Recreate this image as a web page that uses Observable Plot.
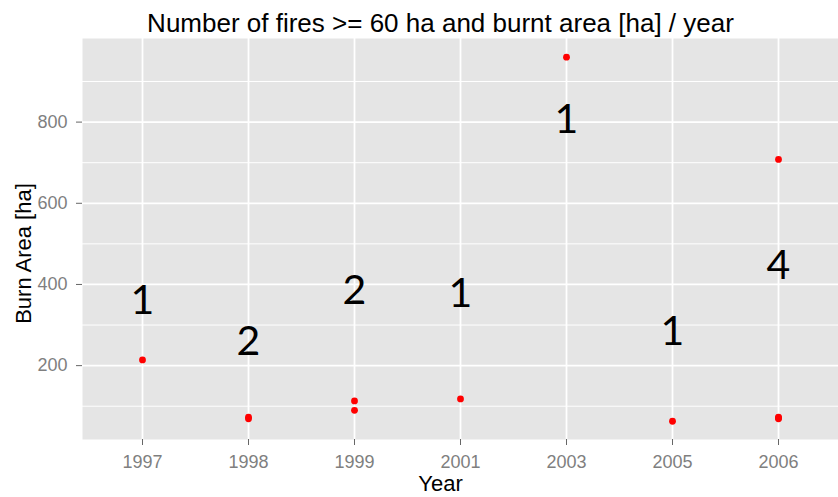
<!DOCTYPE html>
<html>
<head>
<meta charset="utf-8">
<script src="https://cdn.jsdelivr.net/npm/d3@7"></script>
<script src="https://cdn.jsdelivr.net/npm/@observablehq/plot@0.6"></script>
<style>
  html, body { margin: 0; padding: 0; background: white; }
  svg { display: block; }
</style>
</head>
<body>
<div id="chart"></div>
<script>
// ---- data ----
const years = ["1997", "1998", "1999", "2001", "2003", "2005", "2006"];
const fireYear = ["1997", "1998", "1998", "1999", "1999", "2001", "2003", "2005", "2006", "2006", "2006", "2006"];
const burnArea = [214, 69, 73, 113, 90, 118, 960, 63, 708, 69, 71, 73];
const fireCount = [1, 2, 2, 1, 1, 1, 4];
const countLabelY = [360, 259, 385, 376, 806, 282, 447]; // annotation anchor (ha)
const yTicks = [200, 400, 600, 800];
const yMinor = [100, 300, 500, 700, 900];
const titleText = "Number of fires >= 60 ha and burnt area [ha] / year";
const xTitle = "Year";
const yTitle = "Burn Area [ha]";

// ---- tables ----
const points = fireYear.map((y, i) => ({year: y, area: burnArea[i]}));
const labels = years.map((y, i) => ({year: y, count: String(fireCount[i]), pos: countLabelY[i]}));

const chart = Plot.plot({
  width: 838,
  height: 497,
  marginLeft: 82,
  marginRight: 0,
  marginTop: 38,
  marginBottom: 58,
  style: {fontFamily: "'Liberation Sans', Arial, sans-serif", fontSize: "18px", background: "white"},
  x: {type: "point", domain: years, padding: 0.55},
  y: {domain: [18, 1006]},
  marks: [
    Plot.frame({fill: "#e5e5e5"}),
    Plot.ruleY(yMinor, {stroke: "white", strokeWidth: 1}),
    Plot.ruleY(yTicks, {stroke: "white", strokeWidth: 1.8}),
    Plot.ruleX(years, {stroke: "white", strokeWidth: 1.8}),
    Plot.axisY(yTicks, {tickSize: 6, tickPadding: 9, stroke: "#666", fill: "#7f7f7f", label: null}),
    Plot.axisX({tickSize: 6, tickPadding: 10, stroke: "#666", fill: "#7f7f7f", label: null}),
    Plot.dot(points, {x: "year", y: "area", r: 3.4, fill: "red"}),
    Plot.text(labels, {x: "year", y: "pos", text: "count", fontSize: 41, fontFamily: "Lato, 'Open Sans', sans-serif", fill: "black"}),
    Plot.text([titleText], {frameAnchor: "top", text: d => d, dx: -20, dy: -15, lineAnchor: "middle", textAnchor: "middle", fontSize: 26, fill: "black"}),
    Plot.text([xTitle], {frameAnchor: "bottom", text: d => d, dx: -20, dy: 36, lineAnchor: "top", textAnchor: "middle", fontSize: 22, fill: "black"}),
    Plot.text([yTitle], {frameAnchor: "left", text: d => d, dx: -58.5, dy: 14.5, rotate: -90, lineAnchor: "middle", textAnchor: "middle", fontSize: 22, fill: "black"})
  ]
});
document.getElementById("chart").appendChild(chart);
</script>
</body>
</html>
